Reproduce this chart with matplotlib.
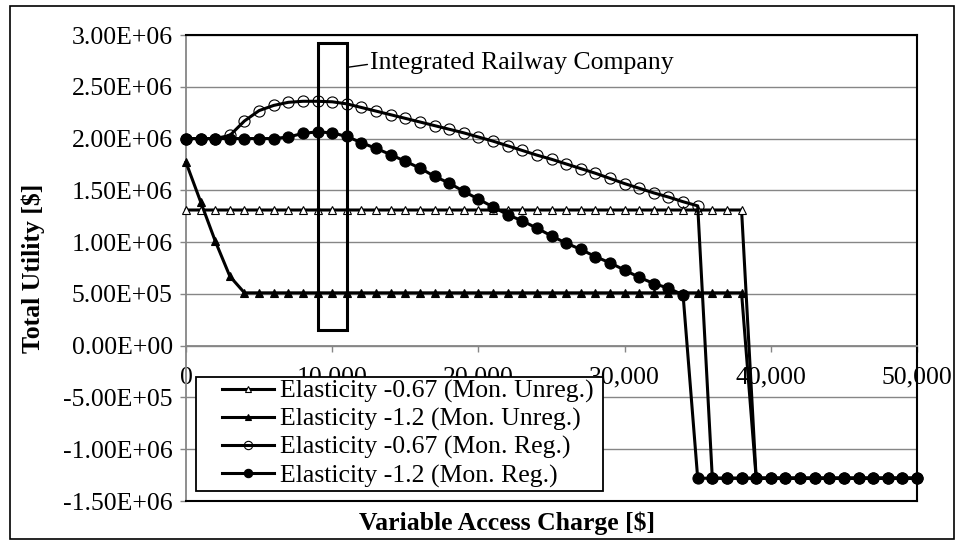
import numpy as np
import matplotlib
matplotlib.use('Agg')
import matplotlib.pyplot as plt
from matplotlib.patches import Rectangle
from matplotlib.lines import Line2D
from matplotlib.ticker import FuncFormatter, MultipleLocator

plt.rcParams['font.family'] = ['Liberation Serif', 'DejaVu Serif']

# x categories: variable access charge [$]
access_charge = list(range(0, 51000, 1000))

# total utility, in millions of $
unreg_067 = [1.31, 1.31, 1.31, 1.31, 1.31, 1.31, 1.31, 1.31, 1.31, 1.31,
             1.31, 1.31, 1.31, 1.31, 1.31, 1.31, 1.31, 1.31, 1.31, 1.31,
             1.31, 1.31, 1.31, 1.31, 1.31, 1.31, 1.31, 1.31, 1.31, 1.31,
             1.31, 1.31, 1.31, 1.31, 1.31, 1.31, 1.31, 1.31, 1.31, -1.28,
             -1.28, -1.28, -1.28, -1.28, -1.28, -1.28, -1.28, -1.28, -1.28, -1.28,
             -1.28]
unreg_12 = [1.77, 1.39, 1.01, 0.67, 0.51, 0.51, 0.51, 0.51, 0.51, 0.51,
            0.51, 0.51, 0.51, 0.51, 0.51, 0.51, 0.51, 0.51, 0.51, 0.51,
            0.51, 0.51, 0.51, 0.51, 0.51, 0.51, 0.51, 0.51, 0.51, 0.51,
            0.51, 0.51, 0.51, 0.51, 0.51, 0.51, 0.51, 0.51, 0.51, -1.28,
            -1.28, -1.28, -1.28, -1.28, -1.28, -1.28, -1.28, -1.28, -1.28, -1.28,
            -1.28]
reg_067 = [2.00, 2.00, 2.00, 2.03, 2.17, 2.27, 2.32, 2.35, 2.36, 2.36,
           2.355, 2.335, 2.30, 2.265, 2.23, 2.195, 2.16, 2.125, 2.09, 2.055,
           2.015, 1.975, 1.93, 1.885, 1.84, 1.80, 1.755, 1.71, 1.665, 1.615,
           1.565, 1.52, 1.475, 1.435, 1.39, 1.35, -1.28, -1.28, -1.28, -1.28,
           -1.28, -1.28, -1.28, -1.28, -1.28, -1.28, -1.28, -1.28, -1.28, -1.28,
           -1.28]
reg_12 = [2.00, 2.00, 2.00, 2.00, 2.00, 2.00, 2.00, 2.015, 2.05, 2.065,
          2.055, 2.02, 1.96, 1.905, 1.845, 1.78, 1.715, 1.635, 1.57, 1.49,
          1.415, 1.34, 1.265, 1.205, 1.135, 1.06, 0.99, 0.93, 0.86, 0.80,
          0.73, 0.66, 0.60, 0.555, 0.49, -1.28, -1.28, -1.28, -1.28, -1.28,
          -1.28, -1.28, -1.28, -1.28, -1.28, -1.28, -1.28, -1.28, -1.28, -1.28,
          -1.28]

series_labels = ['Elasticity -0.67 (Mon. Unreg.)', 'Elasticity -1.2 (Mon. Unreg.)',
                 'Elasticity -0.67 (Mon. Reg.)', 'Elasticity -1.2 (Mon. Reg.)']

W, H = 963, 545
FS = 18.5

def fx(px):
    return px / W

def fy(py):
    return 1 - py / H

fig = plt.figure(figsize=(W / 100, H / 100), dpi=100)
ax = fig.add_axes([fx(186), fy(501), fx(917) - fx(186), fy(35) - fy(501)])

# outer chart border
fig.patches.append(Rectangle((fx(10), fy(539)), fx(954) - fx(10), fy(6) - fy(539),
                             transform=fig.transFigure, fill=False, ec='black', lw=1.2))

x = np.array(access_charge)
lw = 2.2
styles = [
    (unreg_067, dict(marker='^', ms=6.3, mfc='white', mec='black', mew=0.8)),
    (unreg_12, dict(marker='^', ms=6.3, mfc='black', mec='black', mew=0.8)),
    (reg_067, dict(marker='o', ms=8, mfc='none', mec='black', mew=0.8)),
    (reg_12, dict(marker='o', ms=8, mfc='black', mec='black', mew=0.8)),
]
for vals, st in styles:
    ax.plot(x, np.array(vals) * 1e6, color='black', lw=lw, clip_on=False, zorder=3, **st)

ax.set_xlim(0, 50000)
ax.set_ylim(-1.5e6, 3.0e6)
ax.yaxis.set_major_locator(MultipleLocator(5e5))
ax.xaxis.set_major_locator(MultipleLocator(10000))
ax.yaxis.set_major_formatter(FuncFormatter(lambda v, p: '%.2E' % v))
ax.xaxis.set_major_formatter(FuncFormatter(lambda v, p: '{:,.0f}'.format(v)))
ax.grid(axis='y', color='#868686', lw=1.0, zorder=0)
ax.set_axisbelow(True)

grey = '#868686'
ax.spines['left'].set_color(grey)
ax.spines['left'].set_linewidth(1.3)
ax.spines['bottom'].set_position(('data', 0))
ax.spines['bottom'].set_color(grey)
ax.spines['bottom'].set_linewidth(1.3)
ax.spines['top'].set_color('black')
ax.spines['top'].set_linewidth(1.5)
ax.spines['right'].set_color('black')
ax.spines['right'].set_linewidth(1.5)
ax.plot([0, 1], [0, 0], transform=ax.transAxes, color='black', lw=1.5, clip_on=False, zorder=2.6)

ax.tick_params(axis='y', direction='out', length=4.5, width=1, color=grey, labelsize=FS, pad=5)
ax.tick_params(axis='x', direction='out', length=4.5, width=1, color=grey, labelsize=FS, pad=10.5)

ax.set_ylabel('Total Utility [$]', fontsize=FS, fontweight='bold')
ax.yaxis.set_label_coords(fx(33), fy(268), transform=fig.transFigure)
ax.yaxis.label.set_va('center')
ax.set_xlabel('Variable Access Charge [$]', fontsize=FS, fontweight='bold')
ax.xaxis.set_label_coords(fx(507), fy(523), transform=fig.transFigure)
ax.xaxis.label.set_va('center')

# integrated railway company marker box
ax.add_patch(Rectangle((9000, 0.15e6), 2000, 2.77e6, fill=False, ec='black', lw=2.2, zorder=4))
ax.annotate('Integrated Railway Company', xy=(11150, 2.69e6), xytext=(12600, 2.73e6),
            fontsize=FS, va='center', ha='left',
            arrowprops=dict(arrowstyle='-', color='black', lw=1.0, shrinkA=0, shrinkB=0,
                            relpos=(0, 0.45)))

# legend box
ax.add_patch(Rectangle((fx(196), fy(491)), fx(603) - fx(196), fy(377) - fy(491),
                       transform=fig.transFigure, fc='white', ec='black', lw=1.3,
                       zorder=5, clip_on=False))
handles = []
for (vals, st), lab in zip(styles, series_labels):
    s = dict(st)
    s['ms'] = s['ms'] * 0.75
    handles.append(Line2D([], [], color='black', lw=lw, label=lab, **s))
leg = ax.legend(handles=handles, loc='upper left', bbox_to_anchor=(fx(222), fy(380)),
                bbox_transform=fig.transFigure, frameon=False, fontsize=FS,
                handlelength=2.02, handletextpad=0.24, borderpad=0, borderaxespad=0,
                labelspacing=0.18)
leg.set_zorder(6)

fig.savefig('out.png', dpi=100)
